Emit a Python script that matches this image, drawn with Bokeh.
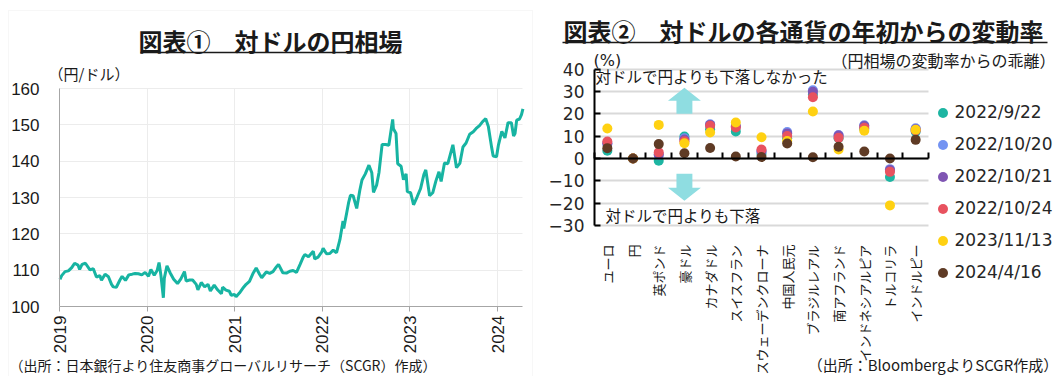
import math
import pandas as pd
from bokeh.plotting import figure
from bokeh.layouts import row
from bokeh.models import (FixedTicker, DatetimeTickFormatter, Label, BoxAnnotation, Grid,
                          Range1d, Legend, LegendItem, LinearAxis)
from bokeh.embed import file_html
from bokeh.resources import INLINE

# ---------------- data: chart 1 (USD/JPY) ----------------
fx_dates = [
    "2019-01-03", "2019-01-10", "2019-01-24", "2019-02-07", "2019-02-21", "2019-03-05", "2019-03-19", "2019-03-26",
    "2019-04-05", "2019-04-19", "2019-05-08", "2019-05-22", "2019-06-04", "2019-06-18", "2019-06-25", "2019-07-10",
    "2019-07-24", "2019-08-06", "2019-08-13", "2019-08-26", "2019-09-10", "2019-09-19", "2019-10-03", "2019-10-17",
    "2019-10-31", "2019-11-12", "2019-11-26", "2019-12-10", "2019-12-24",
    "2020-01-07", "2020-01-17", "2020-01-31", "2020-02-12", "2020-02-20", "2020-02-28", "2020-03-09", "2020-03-13",
    "2020-03-24", "2020-04-06", "2020-04-21", "2020-05-07", "2020-05-21", "2020-06-05", "2020-06-12", "2020-06-26",
    "2020-07-09", "2020-07-24", "2020-07-31", "2020-08-14", "2020-08-28", "2020-09-11", "2020-09-21", "2020-10-07",
    "2020-10-21", "2020-11-06", "2020-11-11", "2020-11-25", "2020-12-09", "2020-12-17", "2020-12-30",
    "2021-01-06", "2021-01-20", "2021-02-03", "2021-02-17", "2021-03-03", "2021-03-17", "2021-03-31", "2021-04-14",
    "2021-04-23", "2021-05-12", "2021-05-26", "2021-06-09", "2021-06-23", "2021-07-02", "2021-07-20", "2021-08-04",
    "2021-08-18", "2021-09-01", "2021-09-15", "2021-09-30", "2021-10-13", "2021-10-20", "2021-11-04", "2021-11-24",
    "2021-11-30", "2021-12-14", "2021-12-30",
    "2022-01-04", "2022-01-18", "2022-02-01", "2022-02-15", "2022-03-01", "2022-03-15", "2022-03-28", "2022-03-31",
    "2022-04-13", "2022-04-20", "2022-04-28", "2022-05-09", "2022-05-24", "2022-06-06", "2022-06-15", "2022-06-29",
    "2022-07-14", "2022-07-26", "2022-08-02", "2022-08-15", "2022-08-25", "2022-09-07", "2022-09-22", "2022-10-05",
    "2022-10-21", "2022-10-24", "2022-11-04", "2022-11-11", "2022-11-25", "2022-12-05", "2022-12-16", "2022-12-21",
    "2023-01-04", "2023-01-16", "2023-01-31", "2023-02-14", "2023-02-28", "2023-03-08", "2023-03-24", "2023-04-06",
    "2023-04-19", "2023-05-02", "2023-05-11", "2023-05-25", "2023-06-08", "2023-06-29", "2023-07-14", "2023-07-28",
    "2023-08-10", "2023-08-23", "2023-09-07", "2023-09-22", "2023-10-04", "2023-10-18", "2023-10-31", "2023-11-13",
    "2023-11-24", "2023-12-07", "2023-12-14", "2023-12-28",
    "2024-01-05", "2024-01-19", "2024-02-01", "2024-02-14", "2024-02-28", "2024-03-08", "2024-03-14", "2024-03-21",
    "2024-04-02", "2024-04-10", "2024-04-16",
]
fx_values = [
    107.5, 108.5, 109.6, 109.8, 110.7, 111.9, 111.4, 110.2,
    111.6, 111.9, 110.1, 110.4, 108.1, 108.5, 107.2, 108.9,
    108.2, 106.1, 105.4, 105.3, 107.3, 108.3, 107.2, 108.7,
    108.9, 109.1, 109.0, 108.7, 109.4,
    108.3, 110.2, 108.6, 109.9, 112.1, 108.5, 102.4, 107.8,
    111.2, 109.3, 107.5, 106.3, 107.6, 109.6, 107.0, 107.3,
    107.3, 106.1, 104.6, 106.6, 105.4, 106.1, 104.3, 105.9,
    104.6, 103.5, 105.3, 104.5, 104.2, 103.1, 103.3,
    102.7, 103.7, 105.0, 106.1, 106.9, 109.0, 110.6, 108.9,
    107.9, 109.5, 109.1, 109.6, 110.9, 111.6, 109.3, 109.2,
    109.7, 109.9, 109.4, 111.6, 113.6, 114.3, 113.7, 115.2,
    113.1, 113.6, 115.1,
    116.0, 114.5, 114.6, 115.5, 114.8, 118.4, 123.5, 121.5,
    126.0, 128.5, 130.6, 130.5, 127.0, 132.0, 134.8, 136.5,
    138.9, 136.8, 131.4, 133.4, 136.9, 144.6, 144.6, 144.4,
    151.5, 148.9, 147.6, 139.3, 138.6, 134.9, 136.5, 131.6,
    131.3, 128.0, 130.2, 132.4, 136.3, 137.6, 130.5, 131.3,
    134.5, 137.1, 134.4, 139.5, 139.3, 144.5, 138.2, 139.4,
    143.9, 145.0, 147.4, 148.1, 149.0, 149.8, 150.9, 151.7,
    149.5, 144.0, 141.4, 141.2,
    144.5, 148.2, 146.4, 150.6, 150.6, 146.9, 147.6, 151.3,
    151.6, 152.8, 154.4,
]
fx_years = ["2019", "2020", "2021", "2022", "2023", "2024"]
fx_yticks = [100, 110, 120, 130, 140, 150, 160]

# ---------------- data: chart 2 (change vs. yen) ----------------
currencies = ["ユーロ", "円", "英ポンド", "豪ドル", "カナダドル", "スイスフラン", "スウェーデンクローナ",
              "中国人民元", "ブラジルレアル", "南アフランド", "インドネシアルピア", "トルコリラ", "インドルピー"]
series_names = ["2022/9/22", "2022/10/20", "2022/10/21", "2022/10/24", "2023/11/13", "2024/4/16"]
s_20220922 = [3.4, 0, -1.0, 9.8, 13.0, 12.1, 2.0, 9.0, 28.5, 9.0, 13.2, -8.3, 12.0]
s_20221020 = [6.5, 0, 1.5, 9.0, 15.3, 14.5, 3.0, 11.8, 30.5, 10.5, 14.8, -4.8, 13.5]
s_20221021 = [6.8, 0, 1.8, 8.5, 15.0, 14.3, 3.3, 11.2, 29.8, 10.2, 14.5, -5.2, 13.0]
s_20221024 = [7.6, 0, 2.7, 7.7, 14.6, 13.8, 4.0, 10.0, 27.4, 9.2, 13.7, -6.0, 12.5]
s_20231113 = [13.4, 0, 15.0, 6.8, 11.6, 16.1, 9.5, 7.8, 21.0, 4.0, 12.4, -21.0, 12.8]
s_20240416 = [4.6, 0, 6.4, 2.3, 4.7, 0.9, 0.6, 6.7, 0.5, 5.2, 3.1, 0.0, 8.3]
series_values = [s_20220922, s_20221020, s_20221021, s_20221024, s_20231113, s_20240416]
series_colors = ["#1db5a2", "#7393f2", "#7f55b3", "#e8525f", "#ffd112", "#5f3b25"]
chg_yticks = [-30, -20, -10, 0, 10, 20, 30, 40]

JP = "Noto Sans CJK JP"
H = 376
HAS_CROSS = "cross_bounds" in Grid.properties()


def add_label(p, x, y_top, text, size, align="left", bold=False, color="#1a1a1a", font=JP):
    p.add_layout(Label(x=x, y=H - y_top, x_units="screen", y_units="screen", text=text,
                       text_font=font, text_font_size=f"{size}px", text_align=align,
                       text_baseline="middle", text_color=color,
                       text_font_style="bold" if bold else "normal"))


def add_rule(p, x0, x1, y, thick=1.6, color="#1a1a1a"):
    p.add_layout(BoxAnnotation(left=x0, right=x1, bottom=H - y - thick / 2, top=H - y + thick / 2,
                               left_units="screen", right_units="screen", bottom_units="screen",
                               top_units="screen", fill_color=color, fill_alpha=1, line_color=None,
                               level="overlay"))


def setup_grid(p, grid, ticks, cross, horizontal):
    grid.ticker = FixedTicker(ticks=ticks)
    if HAS_CROSS:
        grid.cross_bounds = cross
        return grid
    col, wid = grid.grid_line_color, grid.grid_line_width
    grid.grid_line_color = None
    if horizontal:
        p.segment(x0=[cross[0]] * len(ticks), x1=[cross[1]] * len(ticks), y0=ticks, y1=ticks,
                  line_color=col, line_width=wid, level="underlay")
    else:
        p.segment(x0=ticks, x1=ticks, y0=[cross[0]] * len(ticks), y1=[cross[1]] * len(ticks),
                  line_color=col, line_width=wid, level="underlay")


# ---------------- figure 1 ----------------
W1 = 535
dates = pd.to_datetime(fx_dates)
year_ms = [pd.Timestamp(y + "-01-01").value / 1e6 for y in fx_years]
t0, t_last = year_ms[0], dates.max().value / 1e6
# plot region in pixels: x 59..(2024 at 497), y 88..306
mpp = (year_ms[-1] - year_ms[0]) / (497 - 59)
ypp = (fx_yticks[-1] - fx_yticks[0]) / (306 - 88)
x_rng = Range1d(t0 - 59 * mpp, t0 + (W1 - 59) * mpp)
y_rng = Range1d(fx_yticks[0] - (H - 306) * ypp, fx_yticks[-1] + 88 * ypp)

p1 = figure(width=W1, height=H, output_backend="svg", toolbar_location=None, x_axis_type="datetime",
            x_range=x_rng, y_range=y_rng, min_border=0, min_border_left=0, min_border_right=0,
            min_border_top=0, min_border_bottom=0)
p1.outline_line_color = None
p1.line(dates, fx_values, line_color="#17b4a2", line_width=3)

xa = p1.xaxis[0]
xa.fixed_location = fx_yticks[0]
xa.bounds = (t0, t_last)
xa.ticker = FixedTicker(ticks=year_ms)
xa.formatter = DatetimeTickFormatter(years="%Y", months="%Y", days="%Y", hours="%Y")
xa.major_label_orientation = math.pi / 2
xa.minor_tick_line_color = None
xa.major_tick_out = 5
xa.major_tick_in = 0
xa.major_label_standoff = 4
xa.axis_line_color = "#a6a6a6"
xa.major_tick_line_color = "#a6a6a6"
xa.major_label_text_font = "Liberation Sans"
xa.major_label_text_font_size = "17px"
xa.major_label_text_color = "#1a1a1a"

ya = p1.yaxis[0]
ya.fixed_location = t0
ya.bounds = (fx_yticks[0], fx_yticks[-1])
ya.ticker = FixedTicker(ticks=fx_yticks)
ya.minor_tick_line_color = None
ya.major_tick_line_color = None
ya.axis_line_color = "#a6a6a6"
ya.major_label_standoff = 14
ya.major_label_text_font = "Liberation Sans"
ya.major_label_text_font_size = "17px"
ya.major_label_text_color = "#1a1a1a"

p1.xgrid.grid_line_color = "#ececec"
p1.ygrid.grid_line_color = "#ececec"
setup_grid(p1, p1.xgrid[0], year_ms[1:], (fx_yticks[0], fx_yticks[-1]), horizontal=False)
setup_grid(p1, p1.ygrid[0], fx_yticks[1:], (t0, t_last), horizontal=True)

add_label(p1, 270, 40, "図表①　対ドルの円相場", 24, align="center", bold=True)
add_rule(p1, 140, 401, 52)
add_label(p1, 48, 73, "（円/ドル）", 15)
add_label(p1, 9, 364, "（出所：日本銀行より住友商事グローバルリサーチ（SCGR）作成）", 14)
p1.add_layout(BoxAnnotation(left=8, right=532, bottom=-5, top=H - 10, left_units="screen",
                            right_units="screen", bottom_units="screen", top_units="screen",
                            fill_alpha=0, line_color="#e3e3e3", line_width=1, level="overlay"))

# ---------------- figure 2 ----------------
W2 = 524
n = len(currencies)
xs = [i + 0.5 for i in range(n)]
# plot region in pixels: x 59..393, y 68.5..225
upx = n / (393 - 59)
upy = (chg_yticks[-1] - chg_yticks[0]) / (225 - 68.5)
p2 = figure(width=W2, height=H, output_backend="svg", toolbar_location=None,
            x_range=Range1d(-59 * upx, n + (W2 - 393) * upx),
            y_range=Range1d(chg_yticks[0] - (H - 225) * upy, chg_yticks[-1] + 68.5 * upy),
            min_border=0, min_border_left=0, min_border_right=0, min_border_top=0, min_border_bottom=0)
p2.outline_line_color = None
p2.xgrid.grid_line_color = None
p2.ygrid.grid_line_color = "#d9d9d9"
p2.ygrid.grid_line_width = 2
setup_grid(p2, p2.ygrid[0], chg_yticks, (0, n), horizontal=True)

cx = p2.xaxis[0]
cx.fixed_location = chg_yticks[0]
cx.ticker = FixedTicker(ticks=xs)
cx.major_label_overrides = {x: c for x, c in zip(xs, currencies)}
cx.major_label_orientation = math.pi / 2
cx.axis_line_color = None
cx.major_tick_line_color = None
cx.minor_tick_line_color = None
cx.major_label_standoff = 13
cx.major_label_text_font = JP
cx.major_label_text_font_size = "13px"
cx.major_label_text_color = "#1a1a1a"

bnds = list(range(n + 1))
zero_axis = LinearAxis(fixed_location=0, bounds=(0, n), ticker=FixedTicker(ticks=bnds),
                       major_label_overrides={b: "" for b in bnds}, axis_line_color="black",
                       axis_line_width=2, major_tick_line_color="black", major_tick_line_width=2,
                       major_tick_in=6, major_tick_out=0, minor_tick_line_color=None)
p2.add_layout(zero_axis, "below")

ry = p2.yaxis[0]
ry.fixed_location = 0
ry.bounds = (chg_yticks[0], chg_yticks[-1])
ry.ticker = FixedTicker(ticks=chg_yticks)
ry.axis_line_color = "black"
ry.axis_line_width = 2
ry.major_tick_line_color = "black"
ry.major_tick_line_width = 2
ry.major_tick_in = 6
ry.major_tick_out = 0
ry.minor_tick_line_color = None
ry.major_label_standoff = 10
ry.major_label_text_font = "DejaVu Sans"
ry.major_label_text_font_size = "17px"
ry.major_label_text_color = "#262626"

# arrows (decoration), centred on the 4th category
ac = xs[3]
hw_head, hw_shaft = 0.64, 0.31
p2.patch([ac - hw_shaft, ac - hw_shaft, ac - hw_head, ac, ac + hw_head, ac + hw_shaft, ac + hw_shaft],
         [20, 25.8, 25.8, 31.6, 25.8, 25.8, 20], fill_color="#8fdde1", line_color=None)
p2.patch([ac - hw_shaft, ac - hw_shaft, ac - hw_head, ac, ac + hw_head, ac + hw_shaft, ac + hw_shaft],
         [-6.8, -13.1, -13.1, -18.9, -13.1, -13.1, -6.8], fill_color="#8fdde1", line_color=None)

items = []
for name, vals, col in zip(series_names, series_values, series_colors):
    r = p2.scatter(xs, vals, size=10, fill_color=col, line_color=None)
    items.append(LegendItem(label=name, renderers=[r]))

legend = Legend(items=items, location=(394.5, 91.5), padding=0, margin=0, spacing=7,
                label_height=22, glyph_width=25, glyph_height=25, label_standoff=-2,
                label_text_font="DejaVu Sans", label_text_font_size="17px", label_text_color="#262626",
                border_line_color=None, background_fill_alpha=0)
p2.add_layout(legend)

add_label(p2, 28, 30, "図表②　対ドルの各通貨の年初からの変動率", 24, bold=True)
add_rule(p2, 27, 512, 42)
add_label(p2, 58, 60, "(%)", 16, font="DejaVu Sans")
add_label(p2, 520, 59, "（円相場の変動率からの乖離）", 16, align="right")
add_label(p2, 60, 75, "対ドルで円よりも下落しなかった", 15.5)
add_label(p2, 70, 214, "対ドルで円よりも下落", 15.5)
add_label(p2, 523, 364, "（出所：BloombergよりSCGR作成）", 15, align="right")

layout = row(p1, p2, spacing=0)
open("out.html", "w").write(file_html(layout, INLINE))
